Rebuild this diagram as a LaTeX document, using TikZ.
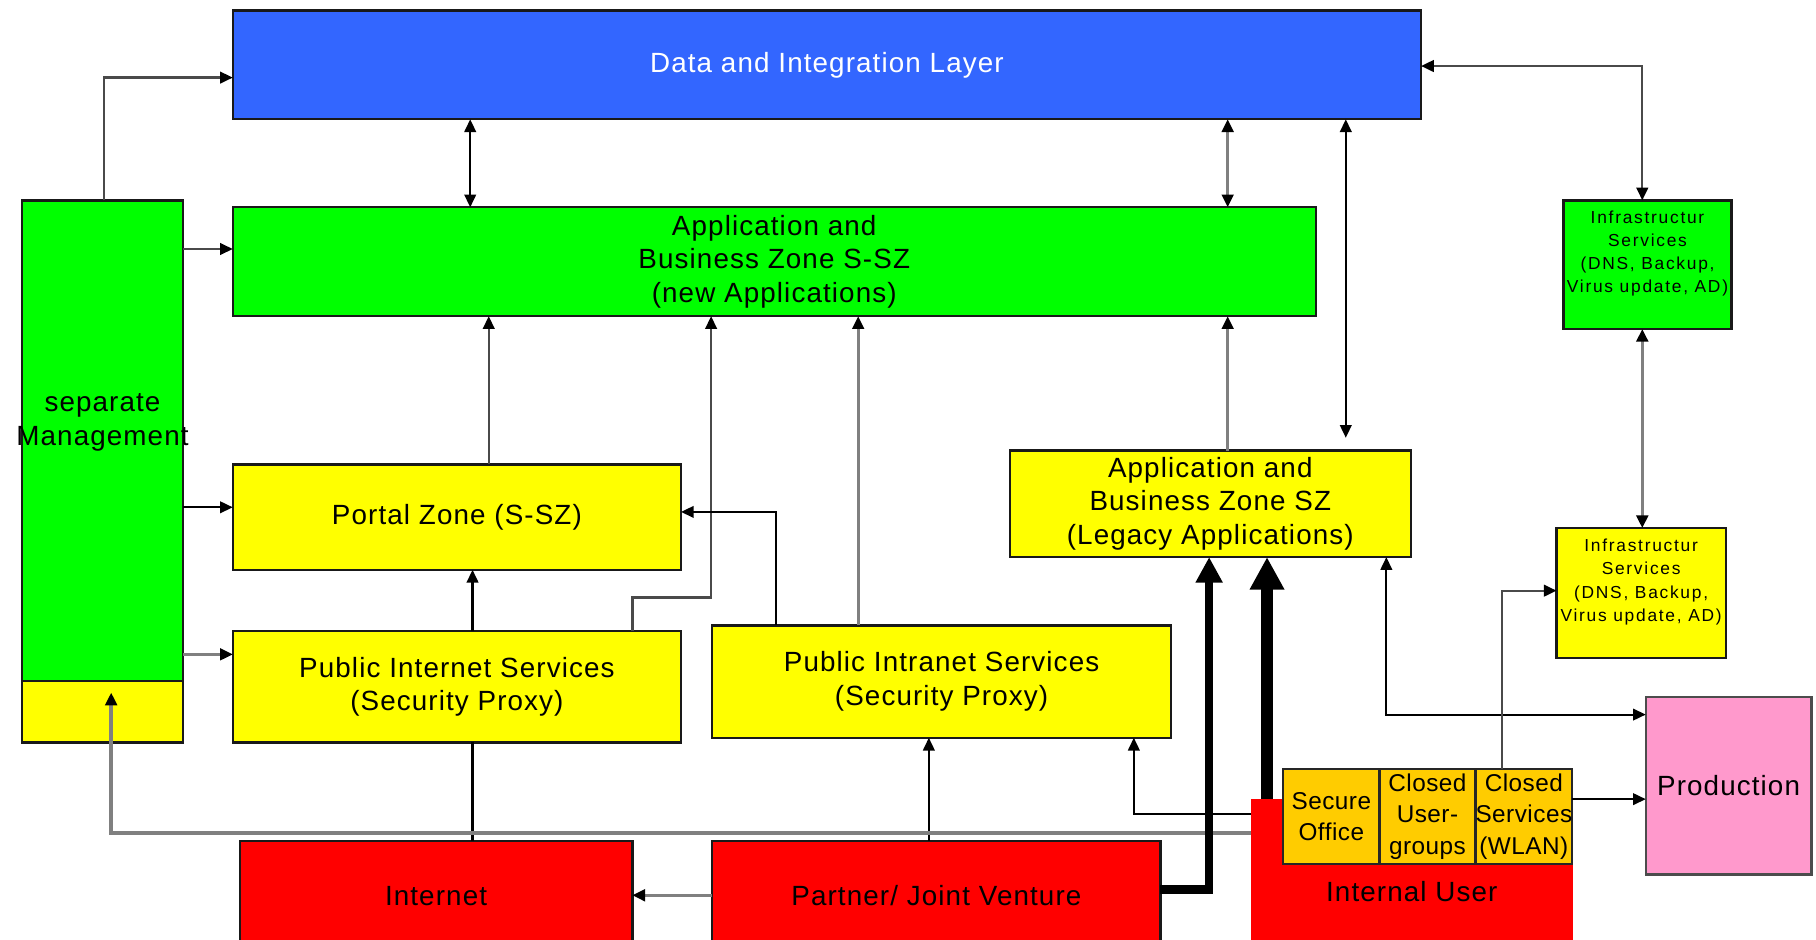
\documentclass[tikz,border=0pt]{standalone}
\usepackage{fontspec}
\setmainfont{Liberation Sans}
\newfontfamily\dgmfam[LetterSpace=4]{Liberation Sans}
\newfontfamily\dgmfamsmall[LetterSpace=10]{Liberation Sans}
\newfontfamily\dgmfamsub[LetterSpace=2]{Liberation Sans}
\usetikzlibrary{arrows.meta}
\definecolor{dblue}{HTML}{3366FF}
\definecolor{dgreen}{HTML}{00FF00}
\definecolor{dyellow}{HTML}{FFFF00}
\definecolor{dred}{HTML}{FF0000}
\definecolor{dpink}{HTML}{FF99CC}
\definecolor{dgold}{HTML}{FFCC00}
\definecolor{lgray}{HTML}{808080}
\definecolor{mgray}{HTML}{4A4A4A}
\begin{document}
\begin{tikzpicture}[x=1pt,y=-1pt,
  ah/.tip={Triangle[length=11pt,width=10pt,color=black]},
  box/.style={draw=black!90, line width=2pt, inner sep=2pt, outer sep=0pt,
    anchor=north west, align=center, font={\dgmfam\fontsize{24}{29}\selectfont}},
  smallbox/.style={box, font={\dgmfamsmall\fontsize{15}{20}\selectfont}},
  subbox/.style={box, fill=dgold, draw=black!85, minimum width=83pt, minimum height=82pt,
    inner sep=0pt, font={\dgmfamsub\fontsize{21}{27}\selectfont}},
  con/.style={line width=1.8pt, draw=black},
  dcon/.style={line width=2pt, draw=mgray},
  gcon/.style={line width=2.4pt, draw=lgray},
  arr/.style={-ah},
  dbl/.style={ah-ah},
  heavy/.style={line width=7pt, draw=black, -{Triangle[length=22pt,width=22pt,color=black]}},
  heavier/.style={line width=10pt, draw=black, -{Triangle[length=28pt,width=28pt,color=black]}}
]
\useasboundingbox (0,0) rectangle (1568,811);
\clip (0,0) rectangle (1568,811);
\fill[white] (0,0) rectangle (1568,811);

% ---- layers and zones ----
\node[box, fill=dblue, text=white, minimum width=1026pt, minimum height=94pt] (dil) at (201,9) {Data and Integration Layer};
\node[box, fill=dgreen, minimum width=935pt, minimum height=94pt] (abz) at (201,179) {Application and\\Business Zone S-SZ\\(new Applications)};
\node[box, fill=dgreen, minimum width=139pt, minimum height=415pt] (mgmt) at (19,173) {separate\\\makebox[0pt]{Management}\\[-1pt]\strut};
\node[box, fill=dyellow, minimum width=139pt, minimum height=53pt] (mgmtbase) at (19,588) {};
\node[box, fill=dyellow, minimum width=387pt, minimum height=91pt] (portal) at (201,401) {Portal Zone (S-SZ)};
\node[box, fill=dyellow, minimum width=387pt, minimum height=96pt] (pis) at (201,545) {Public Internet Services\\(Security Proxy)};
\node[box, fill=dyellow, minimum width=396pt, minimum height=97pt] (pintra) at (615,540) {Public Intranet Services\\(Security Proxy)};
\node[box, fill=dyellow, minimum width=346pt, minimum height=92pt] (legacy) at (872,389) {Application and\\Business Zone SZ\\(Legacy Applications)};
\node[smallbox, fill=dgreen, minimum width=145pt, minimum height=111pt] (infrag) at (1350,173) {Infrastructur\\Services\\(DNS, Backup,\\Virus update, AD)\\[-4pt]\strut};
\node[smallbox, fill=dyellow, minimum width=146pt, minimum height=112pt] (infray) at (1344,456) {Infrastructur\\Services\\(DNS, Backup,\\Virus update, AD)\\[-4pt]\strut};
\node[box, fill=dpink, draw=black!70, minimum width=143pt, minimum height=153pt] (prod) at (1421,602) {Production};

% ---- user groups ----
\node[box, fill=dred, minimum width=339pt, minimum height=95pt] (internet) at (207,726) {Internet};
\node[box, fill=dred, minimum width=387pt, minimum height=95pt] (partner) at (615,726) {Partner/ Joint Venture};
\node[box, fill=dred, draw=none, minimum width=278pt, minimum height=131pt] (internal) at (1080,690) {\strut\\[-4pt]Internal User};
\node[subbox] (office) at (1108,664) {Secure\\Office};
\node[subbox] (cug) at (1191,664) {Closed\\User-\\groups};
\node[subbox] (wlan) at (1274,664) {Closed\\Services\\(WLAN)};

% ---- connectors ----
\coordinate (pA) at (90,67);
\draw[dcon, arr] (mgmt.north -| pA) |- (dil.west |- pA);
\coordinate (pB) at (0,215);
\draw[dcon, arr] (mgmt.east |- pB) -- (abz.west |- pB);
\coordinate (pC) at (0,438);
\draw[con, arr] (mgmt.east |- pC) -- (portal.west |- pC);
\coordinate (pD) at (0,565);
\draw[gcon, arr] (mgmt.east |- pD) -- (pis.west |- pD);

\coordinate (cx406) at (406,0);
\draw[con, dbl] (dil.south -| cx406) -- (abz.north -| cx406);
\coordinate (cx1060) at (1060,0);
\draw[gcon, dbl] (dil.south -| cx1060) -- (abz.north -| cx1060);
\draw[gcon, arr] (legacy.north -| cx1060) -- (abz.south -| cx1060);
\coordinate (legacyIn) at (1162,378);
\draw[con, dbl] (dil.south -| legacyIn) -- (legacyIn);

\coordinate (pE) at (1418,57);
\draw[dcon, dbl] (infrag.north -| pE) |- (dil.east |- pE);
\draw[gcon, line width=3pt, dbl] (infrag.south -| pE) -- (infray.north -| pE);

\coordinate (cx422) at (422,0);
\draw[dcon, arr] (portal.north -| cx422) -- (abz.south -| cx422);
\coordinate (cx408) at (408,0);
\draw[con, arr] (pis.north -| cx408) -- (portal.south -| cx408);
\draw[con] (pis.south -| cx408) -- (internet.north -| cx408);
\coordinate (pF) at (546,516);
\coordinate (pG) at (614,516);
\draw[dcon, arr] (pis.north -| pF) -- (pF) -- (pG) -- (abz.south -| pG);
\coordinate (pH) at (670,442);
\draw[con, arr] (pintra.north -| pH) |- (portal.east |- pH);
\coordinate (cx741) at (741,0);
\draw[gcon, arr] (pintra.north -| cx741) -- (abz.south -| cx741);

\coordinate (cx802) at (802,0);
\draw[con, arr] (partner.north -| cx802) -- (pintra.south -| cx802);
\coordinate (pI) at (0,773);
\draw[gcon, line width=3pt, arr] (partner.west |- pI) -- (internet.east |- pI);

\coordinate (pO) at (96,719);
\coordinate (mgmtIn) at (96,598);
\draw[gcon, line width=3.5pt, arr] (internal.west |- pO) -| (mgmtIn);
\coordinate (pN) at (979,703);
\draw[con, arr] (internal.west |- pN) -| (pintra.south -| pN);

\coordinate (pJ) at (1044,768);
\draw[heavy] (partner.east |- pJ) -| (legacy.south -| pJ);
\coordinate (cx1094) at (1094,0);
\draw[heavier] (internal.north -| cx1094) -- (legacy.south -| cx1094);

\coordinate (pK) at (1197,617);
\draw[con, dbl] (legacy.south -| pK) |- (prod.west |- pK);
\coordinate (pL) at (1297,510);
\draw[dcon, arr] (wlan.north -| pL) |- (infray.west |- pL);
\coordinate (pM) at (0,690);
\draw[con, arr] (wlan.east |- pM) -- (prod.west |- pM);
\end{tikzpicture}
\end{document}
